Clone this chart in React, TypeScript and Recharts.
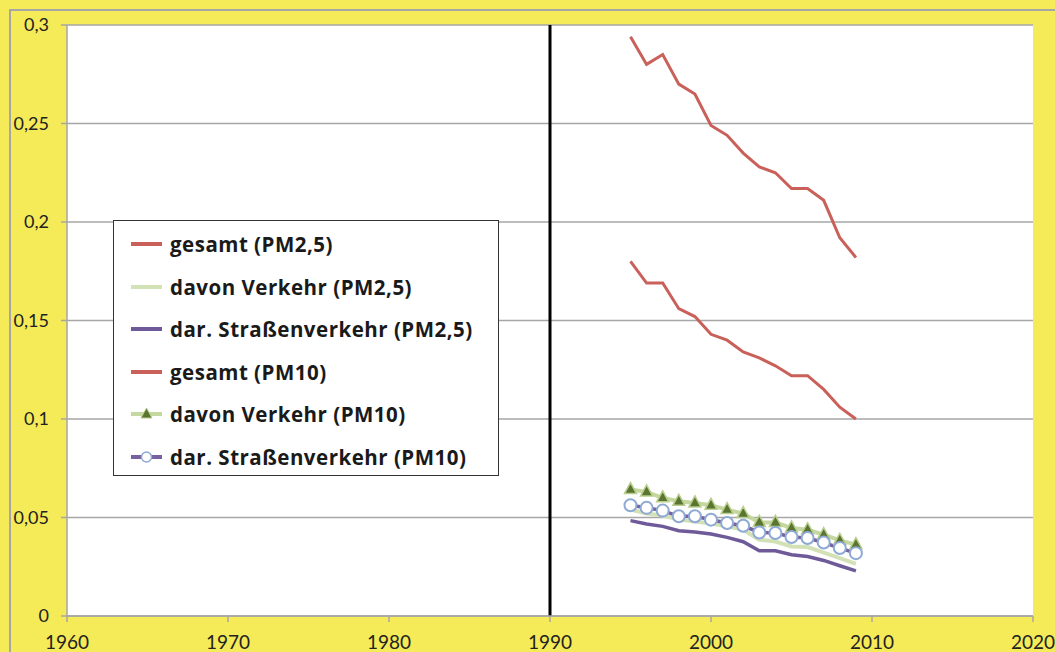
import { LineChart, Line, XAxis, YAxis, CartesianGrid, Legend, ReferenceLine } from 'recharts';

const years = [1995, 1996, 1997, 1998, 1999, 2000, 2001, 2002, 2003, 2004, 2005, 2006, 2007, 2008, 2009];

const gesamtPM25 = [0.180, 0.169, 0.169, 0.156, 0.152, 0.143, 0.140, 0.134, 0.131, 0.127, 0.122, 0.122, 0.115, 0.106, 0.100];
const verkehrPM25 = [0.054, 0.052, 0.051, 0.049, 0.048, 0.047, 0.0455, 0.0438, 0.0387, 0.0378, 0.0353, 0.035, 0.0322, 0.0294, 0.0265];
const strassePM25 = [0.0484, 0.0467, 0.0455, 0.0433, 0.0426, 0.0416, 0.0399, 0.0377, 0.0331, 0.0331, 0.0311, 0.0302, 0.0282, 0.0255, 0.0229];
const gesamtPM10 = [0.294, 0.280, 0.285, 0.270, 0.265, 0.249, 0.244, 0.235, 0.228, 0.225, 0.217, 0.217, 0.211, 0.192, 0.182];
const verkehrPM10 = [0.0642, 0.063, 0.060, 0.0582, 0.0574, 0.0562, 0.054, 0.052, 0.0475, 0.0475, 0.0447, 0.0438, 0.0413, 0.0384, 0.0362];
const strassePM10 = [0.0562, 0.0549, 0.0535, 0.0506, 0.0506, 0.0489, 0.0472, 0.0458, 0.0424, 0.0421, 0.0401, 0.0396, 0.0373, 0.0345, 0.0319];

const xTicks = [1960, 1970, 1980, 1990, 2000, 2010, 2020];
const yTicks = [0, 0.05, 0.1, 0.15, 0.2, 0.25, 0.3];

const series = [
  { key: 'g25', name: 'gesamt (PM2,5)', values: gesamtPM25, color: '#C9605A', width: 3, marker: 'none' },
  { key: 'v25', name: 'davon Verkehr (PM2,5)', values: verkehrPM25, color: '#D3E1B6', width: 4, marker: 'none' },
  { key: 's25', name: 'dar. Straßenverkehr (PM2,5)', values: strassePM25, color: '#6E5A98', width: 3.5, marker: 'none' },
  { key: 'g10', name: 'gesamt (PM10)', values: gesamtPM10, color: '#C9605A', width: 3, marker: 'none' },
  { key: 'v10', name: 'davon Verkehr (PM10)', values: verkehrPM10, color: '#C5D8A0', width: 4, marker: 'triangle' },
  { key: 's10', name: 'dar. Straßenverkehr (PM10)', values: strassePM10, color: '#7761A0', width: 3.5, marker: 'circle' },
];

const data = years.map((year, i) => {
  const row: { [k: string]: number } = { year };
  series.forEach((s) => {
    row[s.key] = s.values[i];
  });
  return row;
});

const FONT = 'Lato, "Open Sans", sans-serif';

function Triangle(props: any) {
  const { cx, cy } = props;
  if (cx == null || cy == null) return null;
  return (
    <polygon
      points={`${cx},${cy - 7} ${cx + 6},${cy + 4} ${cx - 6},${cy + 4}`}
      fill="#5A7530"
      stroke="#B8CD8E"
      strokeWidth={1.5}
    />
  );
}

function renderLegend() {
  return (
    <div
      style={{
        background: '#fff',
        border: '1.5px solid #333',
        width: 386,
        height: 256,
        boxSizing: 'border-box',
        paddingTop: 2,
        fontFamily: '"Open Sans", sans-serif',
      }}
    >
      {series.map((s) => (
        <div key={s.key} style={{ display: 'flex', alignItems: 'center', height: 42.5 }}>
          <svg width={56} height={20} style={{ flexShrink: 0 }}>
            <line x1={17} y1={10} x2={48} y2={10} stroke={s.color} strokeWidth={4} />
            {s.marker === 'triangle' && (
              <polygon points="32.5,4 38,14 27,14" fill="#5A7530" stroke="#B8CD8E" strokeWidth={1} />
            )}
            {s.marker === 'circle' && <circle cx={32.5} cy={10} r={5} fill="#fff" stroke="#8EAAD4" strokeWidth={1.5} />}
          </svg>
          <span style={{ fontWeight: 700, fontSize: 20.5, letterSpacing: 0.5, color: '#1a1a1a', whiteSpace: 'nowrap' }}>
            {s.name}
          </span>
        </div>
      ))}
    </div>
  );
}

export default function App() {
  return (
    <div style={{ position: 'absolute', left: 0, top: 0, width: 1055, height: 652, background: '#F5EA58', overflow: 'hidden' }}>
      <div
        style={{
          position: 'absolute',
          left: 9,
          top: 9,
          width: 1100,
          height: 700,
          borderLeft: '2px solid #A6A6A6',
          borderTop: '2px solid #A6A6A6',
        }}
      />
      <div style={{ position: 'absolute', left: 0, top: 0 }}>
        <LineChart width={1055} height={652} data={data} margin={{ top: 25, right: 22, left: 10, bottom: 0 }}>
          <CartesianGrid vertical={false} stroke="#A6A6A6" strokeWidth={1.5} fill="#fff" />
          <XAxis
            dataKey="year"
            type="number"
            domain={[1960, 2020]}
            ticks={xTicks}
            height={36}
            stroke="#A6A6A6"
            strokeWidth={1.5}
            tickSize={6}
            tickMargin={14}
            tick={{ fill: '#222', fontSize: 19, fontFamily: FONT }}
            interval={0}
          />
          <YAxis
            type="number"
            domain={[0, 0.3]}
            ticks={yTicks}
            width={57}
            stroke="#A6A6A6"
            strokeWidth={1.5}
            tickSize={6}
            tickMargin={12}
            tick={{ fill: '#222', fontSize: 18, fontFamily: FONT }}
            tickFormatter={(v: number) => String(v).replace('.', ',')}
            interval={0}
          />
          <ReferenceLine x={1990} stroke="#000" strokeWidth={3} />
          <Legend
            content={renderLegend}
            layout="horizontal"
            verticalAlign="middle"
            align="center"
            wrapperStyle={{ position: 'absolute', left: 113, top: 220, width: 386, height: 256 }}
          />
          {series.map((s) => (
            <Line
              key={s.key}
              dataKey={s.key}
              name={s.name}
              type="linear"
              stroke={s.color}
              strokeWidth={s.width}
              isAnimationActive={false}
              dot={
                s.marker === 'circle'
                  ? { r: 6, fill: '#fff', stroke: '#8EAAD4', strokeWidth: 2 }
                  : s.marker === 'triangle'
                  ? (p: any) => <Triangle key={`t${p.index}`} {...p} />
                  : false
              }
              activeDot={false}
            />
          ))}
        </LineChart>
      </div>
    </div>
  );
}
